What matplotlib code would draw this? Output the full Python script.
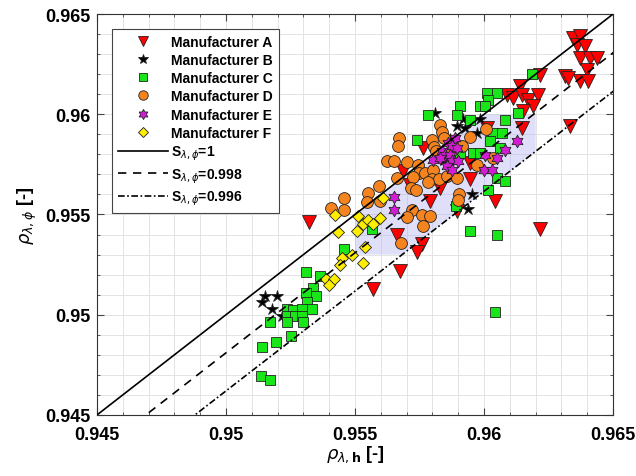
import numpy as np
import matplotlib.pyplot as plt
from matplotlib.path import Path
from matplotlib.patches import Polygon
from matplotlib.ticker import MultipleLocator

plt.rcParams['font.family'] = ['Liberation Sans', 'DejaVu Sans']
plt.rcParams['mathtext.fontset'] = 'dejavusans'

# Manufacturer A (red triangles)
a_x = [0.96345, 0.96372, 0.96360, 0.96391, 0.96372, 0.96411, 0.96438, 0.96399, 0.96314, 0.96326,
       0.96372, 0.96403, 0.96217, 0.96140, 0.96089, 0.96112, 0.96147, 0.96171, 0.96209, 0.96190,
       0.96151, 0.96147, 0.96333, 0.96012, 0.95764, 0.95946, 0.95686, 0.95946, 0.95829, 0.95713,
       0.95791, 0.96043, 0.95895, 0.95663, 0.95760, 0.95740, 0.96217, 0.95674, 0.95570, 0.95322]
a_y = [0.9638, 0.9639, 0.96345, 0.9634, 0.9628, 0.9628, 0.9628, 0.9622, 0.9619, 0.9618,
       0.96165, 0.96165, 0.96195, 0.9614, 0.96095, 0.9608, 0.96095, 0.9607, 0.96095, 0.9604,
       0.96015, 0.9593, 0.9594, 0.9593, 0.9583, 0.95755, 0.95715, 0.95675, 0.9563, 0.95645,
       0.95565, 0.95565, 0.95515, 0.954, 0.95355, 0.95315, 0.9543, 0.9522, 0.9513, 0.95465]

# Manufacturer B (black stars)
b_x = [0.9581, 0.95895, 0.95919, 0.95926, 0.95973, 0.95984, 0.95868, 0.95845, 0.95953, 0.95938,
       0.95151, 0.95198, 0.95140, 0.95178, 0.95217, 0.95876]
b_y = [0.96005, 0.9594, 0.95975, 0.9593, 0.95905, 0.95975, 0.95875, 0.9577, 0.956, 0.95525,
       0.95095, 0.95095, 0.95065, 0.9503, 0.94995, 0.9583]

# Manufacturer C (green squares)
c_x = [0.96186, 0.96012, 0.96050, 0.96016, 0.95907, 0.95984, 0.96004, 0.95895, 0.95783, 0.95946,
       0.96132, 0.96081, 0.95740, 0.96035, 0.96070, 0.96023, 0.96062, 0.95907, 0.95957, 0.95984,
       0.96050, 0.96081, 0.96016, 0.95891, 0.95946, 0.96050, 0.96043, 0.95566, 0.95457, 0.95310,
       0.95364, 0.95337, 0.95310, 0.95349, 0.95314, 0.95333, 0.95236, 0.95260, 0.95295, 0.95236,
       0.95267, 0.95295, 0.95236, 0.95298, 0.95171, 0.95252, 0.95194, 0.95140, 0.95136, 0.95171]
c_y = [0.962, 0.96105, 0.96105, 0.9607, 0.9604, 0.9604, 0.9604, 0.95995, 0.95995, 0.9597,
       0.96005, 0.9597, 0.9587, 0.95905, 0.95905, 0.95865, 0.9583, 0.95805, 0.95805, 0.95805,
       0.9568, 0.95665, 0.9562, 0.9554, 0.9542, 0.954, 0.95015, 0.9543, 0.9533, 0.95215,
       0.95195, 0.95135, 0.9511, 0.95095, 0.95065, 0.9503, 0.9503, 0.95025, 0.9503, 0.94995,
       0.94995, 0.94995, 0.94965, 0.94965, 0.94965, 0.94895, 0.94865, 0.9484, 0.94695, 0.94675]

# Manufacturer D (orange circles)
d_x = [0.95829, 0.95837, 0.95845, 0.95798, 0.95806, 0.95814, 0.95671, 0.95667, 0.95946, 0.95915,
       0.95876, 0.96008, 0.95624, 0.95651, 0.95702, 0.95663, 0.95744, 0.95748, 0.95771, 0.95802,
       0.95798, 0.95826, 0.95783, 0.95725, 0.95717, 0.95736, 0.95857, 0.95895, 0.95973, 0.96035,
       0.95593, 0.95550, 0.95547, 0.95457, 0.95457, 0.95407, 0.95597, 0.95903, 0.95899, 0.95721,
       0.95702, 0.95760, 0.95791, 0.95764, 0.95678]
d_y = [0.95945, 0.9591, 0.9588, 0.9587, 0.95835, 0.95815, 0.9588, 0.9584, 0.95885, 0.9584,
       0.9582, 0.95925, 0.95765, 0.95765, 0.9576, 0.9568, 0.95745, 0.95705, 0.95705, 0.9572,
       0.95675, 0.95675, 0.9566, 0.95685, 0.9563, 0.9562, 0.9569, 0.9568, 0.95745, 0.9578,
       0.9564, 0.95605, 0.9556, 0.9558, 0.9552, 0.9553, 0.95565, 0.956, 0.9557, 0.9552,
       0.95485, 0.95495, 0.9549, 0.95445, 0.9536]

# Manufacturer E (magenta hexagrams)
e_x = [0.95888, 0.95860, 0.95876, 0.95837, 0.95849, 0.95868, 0.95802, 0.95876, 0.95899, 0.95857,
       0.95876, 0.96004, 0.96050, 0.96081, 0.96128, 0.96000, 0.96031, 0.95651, 0.95651, 0.95895,
       0.95829]
e_y = [0.9588, 0.95855, 0.9584, 0.95815, 0.95795, 0.95795, 0.9577, 0.95765, 0.95765, 0.9574,
       0.9572, 0.95795, 0.9578, 0.9582, 0.95865, 0.9572, 0.9572, 0.95585, 0.9552, 0.9583,
       0.9578]

# Manufacturer F (yellow diamonds)
f_x = [0.95609, 0.95422, 0.95512, 0.95531, 0.95550, 0.95570, 0.95597, 0.95508, 0.95434, 0.95539,
       0.95488, 0.95450, 0.95442, 0.95531, 0.95388, 0.95419, 0.95399]
f_y = [0.9558, 0.95495, 0.9549, 0.95455, 0.9547, 0.95455, 0.9548, 0.9542, 0.95415, 0.9534,
       0.953, 0.95285, 0.9525, 0.9526, 0.9518, 0.9518, 0.9515]

s_values = [1, 0.998, 0.996]
s_styles = ['-', (0, (5, 4)), (0, (4, 1.5, 1, 1.5))]

# shaded region: box intersected with band between S=1 and S=0.996
box_x = (0.955, 0.962)
box_y = (0.953, 0.960)

ticks = [0.945, 0.95, 0.955, 0.96, 0.965]
tick_labels = ['0.945', '0.95', '0.955', '0.96', '0.965']

hexagram = Path.unit_regular_star(6, 0.58)

fig = plt.figure(figsize=(6.36, 4.77), dpi=100)
ax = fig.add_axes([0.1525, 0.128, 0.8115, 0.8405])

# shaded patch
s_lo = s_values[-1]
poly = [(box_x[0], box_y[0]), (box_x[0], box_x[0]), (box_y[1], box_y[1]),
        (box_x[1], box_y[1]), (box_x[1], s_lo * box_x[1]), (box_y[0] / s_lo, box_y[0])]
ax.add_patch(Polygon(poly, closed=True, facecolor='#b0b0f0', alpha=0.4,
                     edgecolor='none', zorder=1))

ek = dict(markeredgecolor='#222222', markeredgewidth=0.6, linestyle='none', zorder=3)
ax.plot(a_x, a_y, marker='v', markersize=9.5, color='#ff0000', label='Manufacturer A', **ek)
ax.plot(b_x, b_y, marker='*', markersize=9, color='black', label='Manufacturer B', **ek)
ax.plot(c_x, c_y, marker='s', markersize=7, color='#19e619', label='Manufacturer C', **ek)
ax.plot(d_x, d_y, marker='o', markersize=8.5, color='#f5841f', label='Manufacturer D', **ek)
ax.plot(e_x, e_y, marker=hexagram, markersize=9, color='#d21ed2', label='Manufacturer E', **ek)
ax.plot(f_x, f_y, marker='D', markersize=6.5, color='#ffee00', label='Manufacturer F', **ek)

xx = np.array([0.94, 0.97])
for s, ls in zip(s_values, s_styles):
    ax.plot(xx, s * xx, color='black', linestyle=ls, linewidth=1.2,
            label='S' + r'$_{\lambda,\phi}$' + '=' + str(s), zorder=4)

ax.set_xlim(0.945, 0.965)
ax.set_ylim(0.945, 0.965)
ax.set_xticks(ticks)
ax.set_xticklabels(tick_labels)
ax.set_yticks(ticks)
ax.set_yticklabels(tick_labels)
ax.xaxis.set_minor_locator(MultipleLocator(0.001))
ax.yaxis.set_minor_locator(MultipleLocator(0.001))
ax.grid(True, which='both', color='#e3e3e3', linewidth=0.7, zorder=0)
ax.set_axisbelow(True)
ax.tick_params(which='both', direction='in', top=True, right=True, color='#444444')
ax.tick_params(which='major', length=5, labelsize=13)
ax.tick_params(which='minor', length=2.5)
ax.tick_params(axis='x', which='major', pad=8)
ax.tick_params(axis='y', which='major', pad=5)
for lab in ax.get_xticklabels() + ax.get_yticklabels():
    lab.set_fontweight('bold')
for sp in ax.spines.values():
    sp.set_color('#333333')

ax.set_xlabel(r'$\rho_{\lambda,\mathbf{h}}$ [-]', fontsize=13, fontweight='bold', labelpad=0)
ax.set_ylabel(r'$\rho_{\lambda,\phi}$ [-]', fontsize=13, fontweight='bold', labelpad=4)

leg = ax.legend(loc='upper left', prop={'weight': 'bold', 'size': 10},
                frameon=True, fancybox=False, edgecolor='#444444', framealpha=1,
                handlelength=3.6, handletextpad=0.25, labelspacing=0.3,
                borderaxespad=1.1, markerscale=0.8, borderpad=0.4)
leg.get_frame().set_linewidth(0.8)

fig.savefig('out.png', dpi=100)
